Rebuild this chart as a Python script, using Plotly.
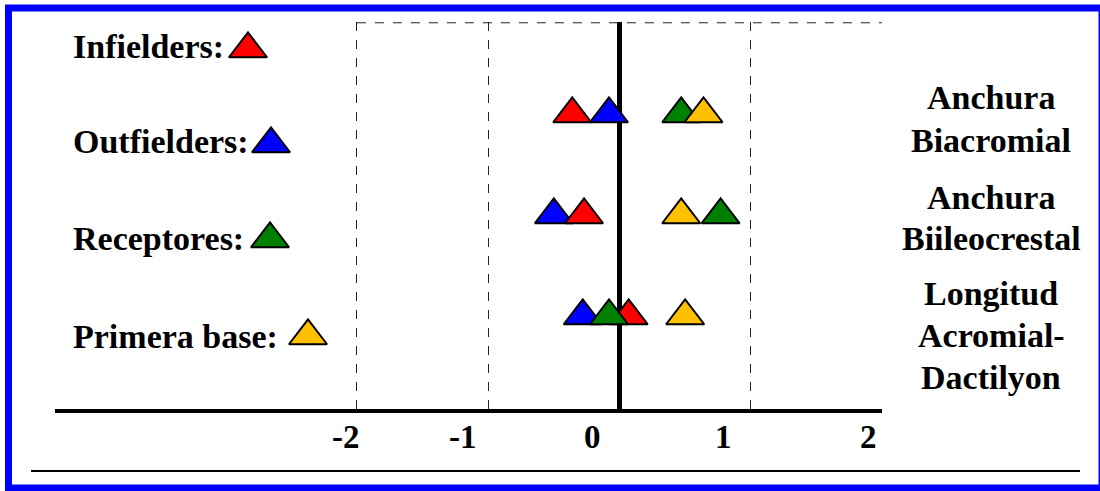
import plotly.graph_objects as go

# ---------------- data ----------------
measures = ["Anchura Biacromial", "Anchura Biileocrestal", "Longitud Acromial-Dactilyon"]
measure_lines = [["Anchura", "Biacromial"], ["Anchura", "Biileocrestal"],
                 ["Longitud", "Acromial-", "Dactilyon"]]

groups = ["Infielders", "Outfielders", "Receptores", "Primera base"]
group_labels = ["Infielders:", "Outfielders:", "Receptores:", "Primera base:"]
group_colors = ["#FF0000", "#0000FF", "#008000", "#FFC000"]

infielders = [-0.36, -0.27, 0.07]
outfielders = [-0.08, -0.50, -0.28]
receptores = [0.47, 0.77, -0.08]
primera_base = [0.64, 0.47, 0.50]

tick_labels = ["-2", "-1", "0", "1", "2"]
dashed_grid = [-2, -1, 1, 2]

# ---------------- layout constants (pixels) ----------------
W, H = 1100, 491
L, R, T, B = 55, 882, 22, 409          # plot area in pixels
PX_PER_UNIT = 131.3
ZERO_PX = 619.5
ROW0_PX, ROW_STEP = 114, 101
tick_label_px = [346, 463, 592, 723, 868]

def xdata(px):
    return (px - ZERO_PX) / PX_PER_UNIT

def xp(px):
    return (px - L) / (R - L)

def yp(py):
    return (B - py) / (B - T)

FONT = "Liberation Serif"
series = {
    "Outfielders": outfielders,
    "Infielders": infielders,
    "Receptores": receptores,
    "Primera base": primera_base,
}
color_of = dict(zip(groups, group_colors))

fig = go.Figure()

# data triangles (draw order: blue, red, green, yellow)
for g in ["Outfielders", "Infielders", "Receptores", "Primera base"]:
    fig.add_trace(go.Scatter(
        x=series[g], y=measures, mode="markers", name=g,
        marker=dict(symbol="triangle-up", size=33, color=color_of[g],
                    line=dict(color="black", width=2)),
        cliponaxis=False, showlegend=False, hoverinfo="x+name",
    ))

# legend swatches (drawn in a pixel-space overlay axis)
legend_tri_x = [248, 271, 270, 308]
legend_tri_y = [49, 144, 239, 336]
for g, c, lx, ly in zip(groups, group_colors, legend_tri_x, legend_tri_y):
    fig.add_trace(go.Scatter(
        x=[lx], y=[ly], xaxis="x2", yaxis="y2", mode="markers",
        marker=dict(symbol="triangle-up", size=33, color=c,
                    line=dict(color="black", width=2)),
        cliponaxis=False, showlegend=False, hoverinfo="skip",
    ))

annotations = []
legend_text_y = [46, 141, 239, 336]
for lab, ty in zip(group_labels, legend_text_y):
    annotations.append(dict(
        text=lab, xref="paper", yref="paper", x=xp(71), y=yp(ty),
        xanchor="left", yanchor="middle", showarrow=False,
        font=dict(family=FONT, size=34, color="black", weight="bold"),
    ))

measure_text_y = [119, 218, 335]
LINE_STEP = 42
for lines, cy in zip(measure_lines, measure_text_y):
    n = len(lines)
    for k, ln in enumerate(lines):
        ly = cy + (k - (n - 1) / 2) * LINE_STEP
        annotations.append(dict(
            text=ln, xref="paper", yref="paper", x=xp(991), y=yp(ly),
            xanchor="center", yanchor="middle", showarrow=False,
            font=dict(family=FONT, size=34, color="black", weight="bold"),
        ))

for lab, px in zip(tick_labels, tick_label_px):
    annotations.append(dict(
        text=lab, xref="x", yref="paper", x=xdata(px), y=yp(437),
        xanchor="center", yanchor="middle", showarrow=False,
        font=dict(family=FONT, size=33, color="black", weight="bold"),
    ))

shapes = [
    # top dashed edge of the box
    dict(type="line", xref="x", yref="y domain", x0=-2, x1=2, y0=0.998, y1=0.998,
         line=dict(color="#222222", width=1, dash="dash")),
    # bottom thin rule
    dict(type="line", xref="paper", yref="paper", x0=xp(31), x1=xp(1080),
         y0=yp(471), y1=yp(471), line=dict(color="black", width=2)),
    # blue frame
    dict(type="rect", xref="paper", yref="paper", x0=xp(8.5), x1=xp(1102),
         y0=yp(8), y1=yp(488), line=dict(color="#0000FF", width=7)),
]

fig.update_layout(
    width=W, height=H, autosize=False,
    margin=dict(l=L, r=W - R, t=T, b=H - B, pad=0),
    paper_bgcolor="white", plot_bgcolor="white",
    showlegend=False,
    annotations=annotations, shapes=shapes,
    xaxis=dict(
        range=[xdata(L), xdata(R)], domain=[0, 1],
        tickmode="array", tickvals=[xdata(p) for p in tick_label_px], ticktext=tick_labels,
        ticks="", showgrid=False, showticklabels=False,
        showline=True, linewidth=4, linecolor="black",
        zeroline=True, zerolinewidth=5, zerolinecolor="black",
        minor=dict(tickmode="array", tickvals=dashed_grid, showgrid=True,
                   gridcolor="#222222", gridwidth=1, griddash="dash", ticks=""),
        fixedrange=True,
    ),
    yaxis=dict(
        type="category", categoryorder="array", categoryarray=measures,
        range=[(B - ROW0_PX) / ROW_STEP, (T - ROW0_PX) / ROW_STEP],
        visible=False, showgrid=False, zeroline=False, fixedrange=True,
    ),
    xaxis2=dict(overlaying="x", anchor="y2", range=[L, R], visible=False, fixedrange=True),
    yaxis2=dict(overlaying="y", anchor="x2", range=[B, T], visible=False, fixedrange=True),
)

fig.write_html("out.html", config={"displayModeBar": False},
               post_script="document.body.style.margin='0';document.body.style.overflow='hidden';")
